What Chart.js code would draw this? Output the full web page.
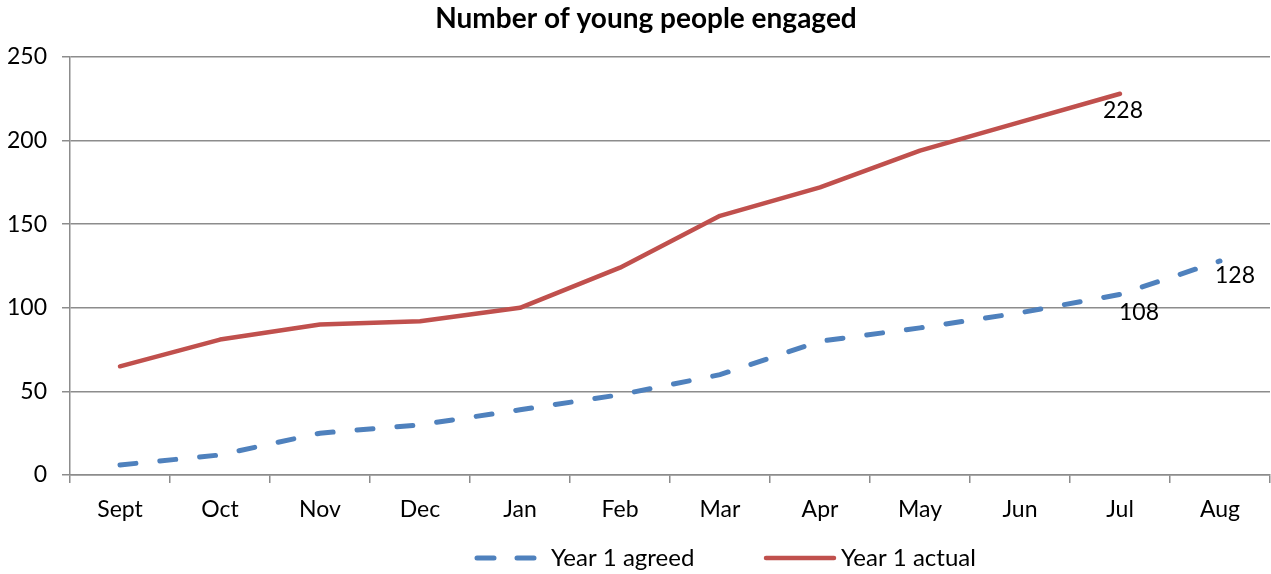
<!DOCTYPE html>
<html>
<head>
<meta charset="utf-8">
<script src="https://cdn.jsdelivr.net/npm/chart.js@4.4.0/dist/chart.umd.js"></script>
<style>
  html, body { margin: 0; padding: 0; background: #ffffff; }
  #wrap { width: 1271px; height: 574px; position: relative; }
</style>
</head>
<body>
<div id="wrap"><canvas id="chart" width="1271" height="574"></canvas></div>
<script>
// Chart data
const months = ['Sept', 'Oct', 'Nov', 'Dec', 'Jan', 'Feb', 'Mar', 'Apr', 'May', 'Jun', 'Jul', 'Aug'];
const agreed = [6, 12, 25, 30, 39, 48, 60, 80, 88, 97, 108, 128];
const actual = [65, 81, 90, 92, 100, 124, 155, 172, 194, 211, 228, null];
const yTicks = [0, 50, 100, 150, 200, 250];

const FONT = 'Lato, "Open Sans", sans-serif';
const BLUE = '#4F81BD';
const RED = '#C0504D';
const GRID = '#8c8c8c';

// value labels shown on the chart: [datasetIndex, pointIndex, dx, dy]
const valueLabels = [
    [1, 10, 3, 17],
    [0, 10, 19, 18],
    [0, 11, 15, 15]
];

const labelPlugin = {
    id: 'valueLabels',
    afterDatasetsDraw(chart) {
        const ctx = chart.ctx;
        ctx.save();
        ctx.font = '23px ' + FONT;
        ctx.fillStyle = '#000000';
        ctx.textAlign = 'center';
        ctx.textBaseline = 'middle';
        valueLabels.forEach(([ds, i, dx, dy]) => {
            const pt = chart.getDatasetMeta(ds).data[i];
            const v = chart.data.datasets[ds].data[i];
            ctx.fillText(String(v), pt.x + dx, pt.y + dy);
        });
        ctx.restore();
    }
};

// title and legend drawn by hand so they sit where the original has them
const framePlugin = {
    id: 'frame',
    afterDraw(chart) {
        const ctx = chart.ctx;
        ctx.save();
        ctx.fillStyle = '#000000';
        ctx.textBaseline = 'middle';

        ctx.font = 'bold 28px ' + FONT;
        ctx.textAlign = 'center';
        ctx.fillText('Number of young people engaged', 646, 19);

        const y = 558;
        ctx.font = '24px ' + FONT;
        ctx.textAlign = 'left';

        ctx.lineCap = 'round';
        ctx.strokeStyle = BLUE;
        ctx.lineWidth = 5;
        ctx.setLineDash([17, 23]);
        ctx.beginPath();
        ctx.moveTo(477, y);
        ctx.lineTo(535, y);
        ctx.stroke();
        ctx.fillText(chart.data.datasets[0].label, 551, y);

        ctx.setLineDash([]);
        ctx.strokeStyle = RED;
        ctx.lineWidth = 4.5;
        ctx.beginPath();
        ctx.moveTo(766, y);
        ctx.lineTo(834, y);
        ctx.stroke();
        ctx.fillText(chart.data.datasets[1].label, 841, y);
        ctx.restore();
    }
};

new Chart(document.getElementById('chart'), {
    type: 'line',
    data: {
        labels: months,
        datasets: [
            {
                label: 'Year 1 agreed',
                data: agreed,
                borderColor: BLUE,
                backgroundColor: BLUE,
                borderWidth: 5,
                borderDash: [16, 24],
                borderCapStyle: 'round',
                pointRadius: 0,
                tension: 0
            },
            {
                label: 'Year 1 actual',
                data: actual,
                borderColor: RED,
                backgroundColor: RED,
                borderWidth: 4.5,
                borderCapStyle: 'round',
                borderJoinStyle: 'round',
                pointRadius: 0,
                tension: 0
            }
        ]
    },
    options: {
        responsive: false,
        animation: false,
        devicePixelRatio: 1,
        layout: { padding: { left: 0, right: 1, top: 57, bottom: 40 } },
        plugins: {
            legend: { display: false },
            tooltip: { enabled: false },
            title: { display: false }
        },
        scales: {
            x: {
                offset: true,
                grid: {
                    offset: true,
                    drawOnChartArea: false,
                    drawTicks: true,
                    tickLength: 8,
                    color: GRID,
                    lineWidth: 1.5
                },
                border: { color: GRID, width: 1.5 },
                ticks: {
                    color: '#000000',
                    font: { family: FONT, size: 23 },
                    padding: 13,
                    maxRotation: 0,
                    autoSkip: false
                },
                afterFit(scale) { scale.height = 59; }
            },
            y: {
                min: 0,
                max: 250,
                afterBuildTicks(scale) { scale.ticks = yTicks.map(v => ({ value: v })); },
                grid: {
                    color: GRID,
                    lineWidth: 1.5,
                    tickLength: 8
                },
                border: { color: GRID, width: 1.5 },
                ticks: {
                    color: '#000000',
                    font: { family: FONT, size: 23 },
                    padding: 15
                },
                afterFit(scale) { scale.width = 70; }
            }
        }
    },
    plugins: [labelPlugin, framePlugin]
});
</script>
</body>
</html>
